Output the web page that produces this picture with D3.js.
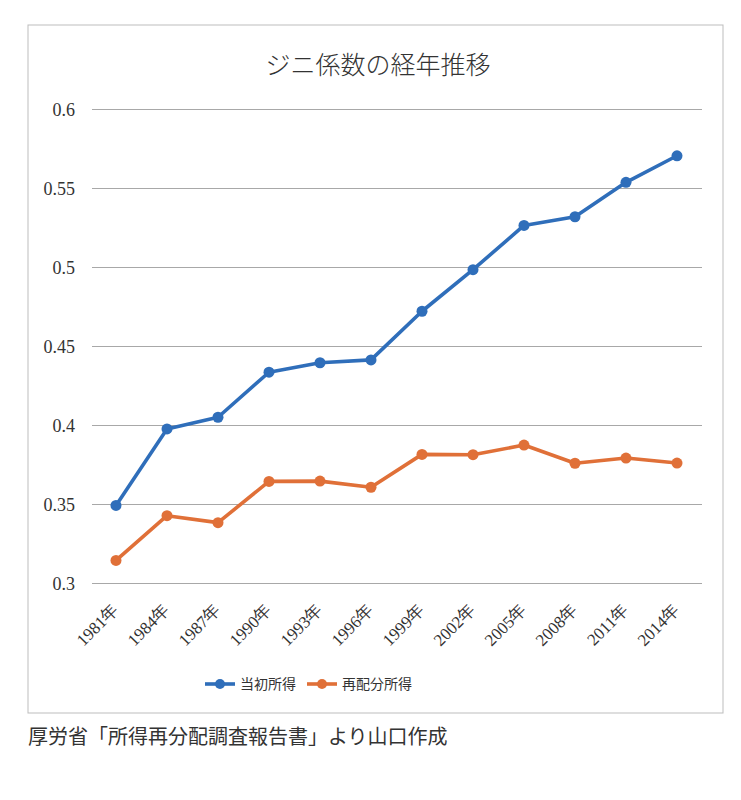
<!DOCTYPE html>
<html><head><meta charset="utf-8">
<script src="https://cdn.jsdelivr.net/npm/d3@7"></script>
<style>body{margin:0;background:#fff;} svg{display:block;}
.num{font-family:"Liberation Serif","DejaVu Serif",serif;fill:#333;}
</style>
</head><body>
<svg id="c" width="741" height="800"></svg>
<script>
const years = ["1981年","1984年","1987年","1990年","1993年","1996年","1999年","2002年","2005年","2008年","2011年","2014年"];
const initialIncome = [0.3491,0.3975,0.4049,0.4334,0.4394,0.4412,0.4720,0.4983,0.5263,0.5318,0.5536,0.5704];
const redistributed = [0.3143,0.3426,0.3382,0.3643,0.3645,0.3606,0.3814,0.3812,0.3873,0.3758,0.3791,0.3759];
const yTicks = [0.3,0.35,0.4,0.45,0.5,0.55,0.6];
const seriesNames = ["当初所得","再配分所得"];
const colors = ["#2F6EBA","#E07038"];
const title = "ジニ係数の経年推移";
const caption = "厚労省「所得再分配調査報告書」より山口作成";

const svg = d3.select("#c");
const cjk = "'Noto Sans CJK JP','Noto Sans',sans-serif";

svg.append("rect").attr("x",28).attr("y",25).attr("width",695).attr("height",688)
  .attr("fill","none").attr("stroke","#bdbdbd").attr("stroke-width",1);

const x = d3.scalePoint().domain(years).range([116,677]);
const y = d3.scaleLinear().domain([0.3,0.6]).range([583,109]);

const grid = svg.append("g").attr("transform","translate(92,0)")
  .call(d3.axisLeft(y).tickValues(yTicks).tickSize(-610).tickFormat(""));
grid.select(".domain").remove();
grid.selectAll("line").attr("stroke","#a8a8a8").attr("stroke-width",1);

const ya = svg.append("g").attr("transform","translate(75,0)")
  .call(d3.axisLeft(y).tickValues(yTicks).tickSize(0).tickPadding(0).tickFormat(d=>String(+d.toFixed(2))));
ya.attr("font-family",null).attr("font-size",null);
ya.select(".domain").remove();
ya.selectAll("text").attr("class","num").style("font-size","18px").attr("dy","0.35em");

const xa = svg.append("g").attr("transform","translate(0,583)")
  .call(d3.axisBottom(x).tickSize(0).tickPadding(0));
xa.attr("font-family",null).attr("font-size",null);
xa.select(".domain").remove();
xa.selectAll("text").attr("class","num").style("font-size","17px")
  .attr("text-anchor","end").attr("dy",null).attr("y",0)
  .attr("transform","translate(3,28) rotate(-45)");

const series = [initialIncome, redistributed];
const line = d3.line().x((d,i)=>x(years[i])).y(d=>y(d));
series.forEach((s,k)=>{
  svg.append("path").datum(s).attr("d",line).attr("fill","none")
    .attr("stroke",colors[k]).attr("stroke-width",3.6).attr("stroke-linejoin","round");
  svg.append("g").selectAll("circle").data(s).join("circle")
    .attr("cx",(d,i)=>x(years[i])).attr("cy",d=>y(d)).attr("r",5.5).attr("fill",colors[k]);
});

svg.append("text").attr("x",378).attr("y",74).attr("text-anchor","middle")
  .attr("font-family",cjk).attr("font-weight",300).attr("font-size",25).attr("fill","#333").text(title);

const legX = [205,307];
seriesNames.forEach((n,k)=>{
  const g = svg.append("g").attr("transform",`translate(${legX[k]},684)`);
  g.append("line").attr("x1",0).attr("x2",30).attr("stroke",colors[k]).attr("stroke-width",3.6);
  g.append("circle").attr("cx",15).attr("r",5).attr("fill",colors[k]);
  g.append("text").attr("x",35).attr("y",5).attr("font-family",cjk).attr("font-size",14).attr("fill","#333").text(n);
});

svg.append("text").attr("x",28).attr("y",744).attr("font-family",cjk).attr("font-size",20)
  .attr("fill","#333").text(caption);
</script>
</body></html>
